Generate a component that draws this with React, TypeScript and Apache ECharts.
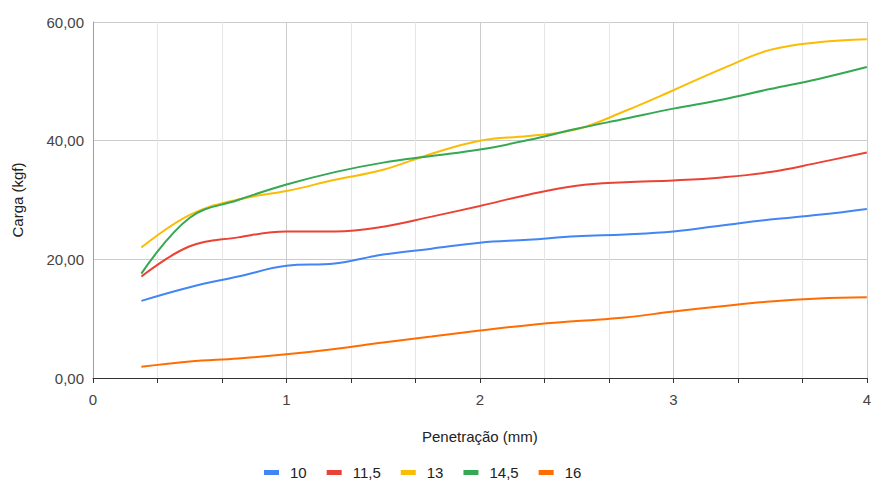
import React, { useEffect, useRef } from "react";
import * as echarts from "echarts";

const xValues = [0.25, 0.5, 0.75, 1, 1.25, 1.5, 1.75, 2, 2.25, 2.5, 2.75, 3, 3.25, 3.5, 3.75, 4];
const s10 = [13.0, 15.3, 17.1, 18.9, 19.3, 20.8, 21.8, 22.8, 23.3, 23.9, 24.2, 24.7, 25.7, 26.7, 27.5, 28.5];
const s115 = [17.1, 22.2, 23.7, 24.7, 24.7, 25.5, 27.2, 29.0, 30.9, 32.4, 33.0, 33.3, 33.8, 34.7, 36.3, 38.0];
const s13 = [22.0, 27.5, 30.1, 31.5, 33.4, 35.1, 37.8, 40.0, 40.8, 41.9, 45.0, 48.5, 52.1, 55.3, 56.6, 57.1];
const s145 = [17.6, 27.0, 30.0, 32.6, 34.7, 36.3, 37.4, 38.5, 40.1, 42.0, 43.7, 45.4, 46.9, 48.7, 50.4, 52.4];
const s16 = [1.9, 2.8, 3.3, 4.0, 4.9, 6.0, 7.0, 8.0, 8.9, 9.6, 10.2, 11.2, 12.1, 12.9, 13.4, 13.6];

const seriesNames = ["10", "11,5", "13", "14,5", "16"];
const seriesData = [s10, s115, s13, s145, s16];
const colors = ["#4285F4", "#EA4335", "#FBBC04", "#34A853", "#FF6D01"];

const FONT = "'Liberation Sans', Arial, sans-serif";

export default function App() {
  const ref = useRef<HTMLDivElement>(null);
  useEffect(() => {
    if (!ref.current) return;
    const chart = echarts.init(ref.current, null, { renderer: "svg" });
    chart.setOption({
      animation: false,
      color: colors,
      textStyle: { fontFamily: FONT },
      grid: { left: 93, right: 5, top: 22, bottom: 103, containLabel: false },
      legend: {
        top: 465,
        left: 264,
        padding: 0,
        itemWidth: 15,
        itemHeight: 5,
        itemGap: 20,
        icon: "rect",
        textStyle: { fontSize: 15, color: "#222", fontFamily: FONT, padding: [0, 0, 0, 6] },
        data: seriesNames,
      },
      xAxis: {
        type: "value",
        min: 0,
        max: 4,
        interval: 1,
        name: "Penetração (mm)",
        nameLocation: "middle",
        nameGap: 51,
        nameTextStyle: { fontSize: 15, color: "#222", fontFamily: FONT },
        axisLine: { lineStyle: { color: "#333", width: 1 } },
        axisTick: { show: true, length: 5, lineStyle: { color: "#333" } },
        minorTick: { show: true, splitNumber: 3, length: 5, lineStyle: { color: "#333" } },
        axisLabel: { fontSize: 15, color: "#444", margin: 14, fontFamily: FONT },
        splitLine: { show: true, lineStyle: { color: "#cccccc" } },
        minorSplitLine: { show: true, lineStyle: { color: "#e6e6e6" } },
      },
      yAxis: {
        type: "value",
        min: 0,
        max: 60,
        interval: 20,
        name: "Carga (kgf)",
        nameLocation: "middle",
        nameGap: 68,
        nameTextStyle: { fontSize: 15, color: "#222", fontFamily: FONT },
        axisLine: { show: true, lineStyle: { color: "#9e9e9e", width: 1 } },
        axisTick: { show: false },
        axisLabel: {
          fontSize: 15,
          color: "#444",
          margin: 9,
          fontFamily: FONT,
          formatter: (v: number) => v.toFixed(2).replace(".", ","),
        },
        splitLine: { show: true, lineStyle: { color: "#cccccc" } },
      },
      series: seriesNames.map((name, i) => ({
        name,
        type: "line",
        smooth: 0.4,
        showSymbol: false,
        symbol: "none",
        lineStyle: { width: 2 },
        data: xValues.map((x, j) => [x, seriesData[i][j]]),
      })),
    });
    return () => chart.dispose();
  }, []);
  return <div ref={ref} style={{ width: 874, height: 481, position: "absolute", left: 0, top: 0 }} />;
}
